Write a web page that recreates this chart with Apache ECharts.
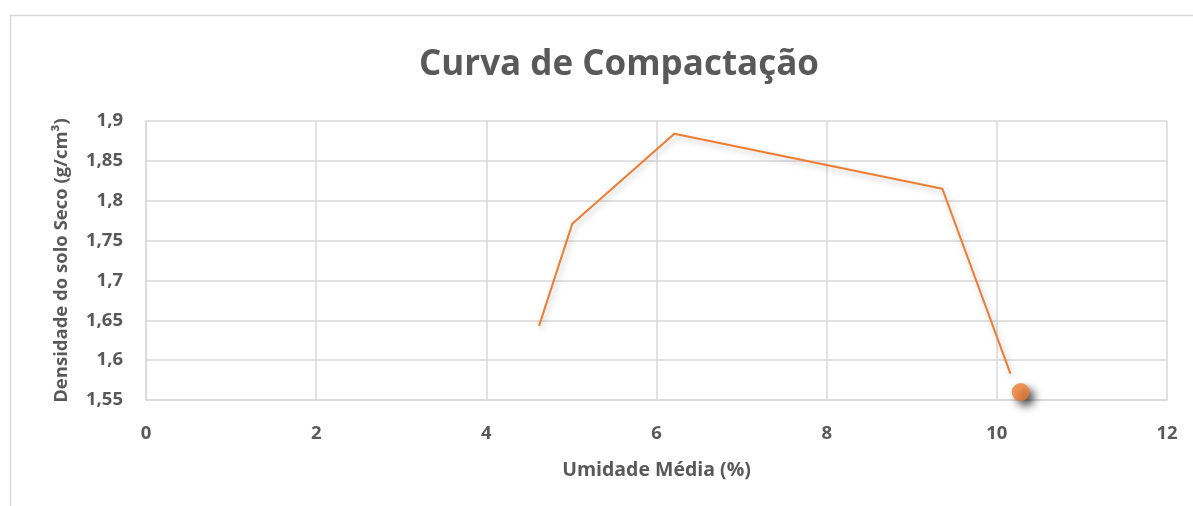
<!DOCTYPE html>
<html>
<head>
<meta charset="utf-8">
<script src="https://cdn.jsdelivr.net/npm/echarts@6/dist/echarts.min.js"></script>
<style>
  html, body { margin: 0; padding: 0; background: #fff; }
  #main { width: 1193px; height: 506px; }
</style>
</head>
<body>
<div id="main"></div>
<script>
// umidade (%) x densidade seca (g/cm3)
const umidade = [4.62, 5.01, 6.21, 9.36, 10.16];
const densidade = [1.643, 1.771, 1.884, 1.815, 1.583];
// ponto isolado (marcador)
const pontoX = [10.28];
const pontoY = [1.560];

const cinza = "#595959";
const laranja = "#ED7D31";

const myChart = echarts.init(document.getElementById("main"));
const option = {
  backgroundColor: "#fff",
  textStyle: { fontFamily: "Open Sans" },
  title: {
    text: "Curva de Compactação",
    left: 414,
    top: 43,
    textStyle: { fontSize: 35, fontWeight: "bold", color: cinza, fontFamily: "Open Sans" }
  },
  graphic: [
    {
      type: "rect",
      shape: { x: 10.5, y: 15.5, width: 1200, height: 600 },
      style: { fill: "none", stroke: "#d9d9d9", lineWidth: 1.5 },
      silent: true
    }
  ],
  grid: { left: 146, right: 26, top: 121, bottom: 106 },
  xAxis: {
    type: "value",
    min: 0,
    max: 12,
    interval: 2,
    name: "Umidade Média (%)",
    nameLocation: "middle",
    nameGap: 60,
    nameTextStyle: { fontSize: 19.5, fontWeight: "bold", color: cinza },
    axisLine: { show: true, lineStyle: { color: "#d9d9d9", width: 1.5 } },
    axisTick: { show: false },
    axisLabel: { fontSize: 18.5, fontWeight: "bold", color: cinza, margin: 24 },
    splitLine: { show: true, lineStyle: { color: "#d9d9d9", width: 1.5 } }
  },
  yAxis: {
    type: "value",
    min: 1.55,
    max: 1.9,
    interval: 0.05,
    name: "Densidade do solo Seco (g/cm³)",
    nameLocation: "middle",
    nameGap: 75,
    nameRotate: 90,
    nameTextStyle: { fontSize: 18.5, fontWeight: "bold", color: cinza },
    axisLine: { show: true, lineStyle: { color: "#d9d9d9", width: 1.5 } },
    axisTick: { show: false },
    axisLabel: {
      fontSize: 18.5,
      fontWeight: "bold",
      color: cinza,
      margin: 23,
      formatter: v => String(Math.round(v * 100) / 100).replace(".", ",")
    },
    splitLine: { show: true, lineStyle: { color: "#d9d9d9", width: 1.5 } }
  },
  series: [
    {
      type: "line",
      data: umidade.map((x, i) => [x, densidade[i]]),
      showSymbol: false,
      symbol: "none",
      lineStyle: {
        color: laranja,
        width: 2,
        shadowColor: "rgba(0,0,0,0.25)",
        shadowBlur: 6,
        shadowOffsetX: 2,
        shadowOffsetY: 3
      },
      z: 3
    },
    {
      type: "scatter",
      data: pontoX.map((x, i) => [x, pontoY[i]]),
      symbol: "circle",
      symbolSize: 18,
      itemStyle: {
        color: laranja,
        shadowColor: "rgba(0,0,0,0.85)",
        shadowBlur: 9,
        shadowOffsetX: 5,
        shadowOffsetY: 5
      },
      z: 4
    }
  ]
};
myChart.setOption(option);
</script>
</body>
</html>
